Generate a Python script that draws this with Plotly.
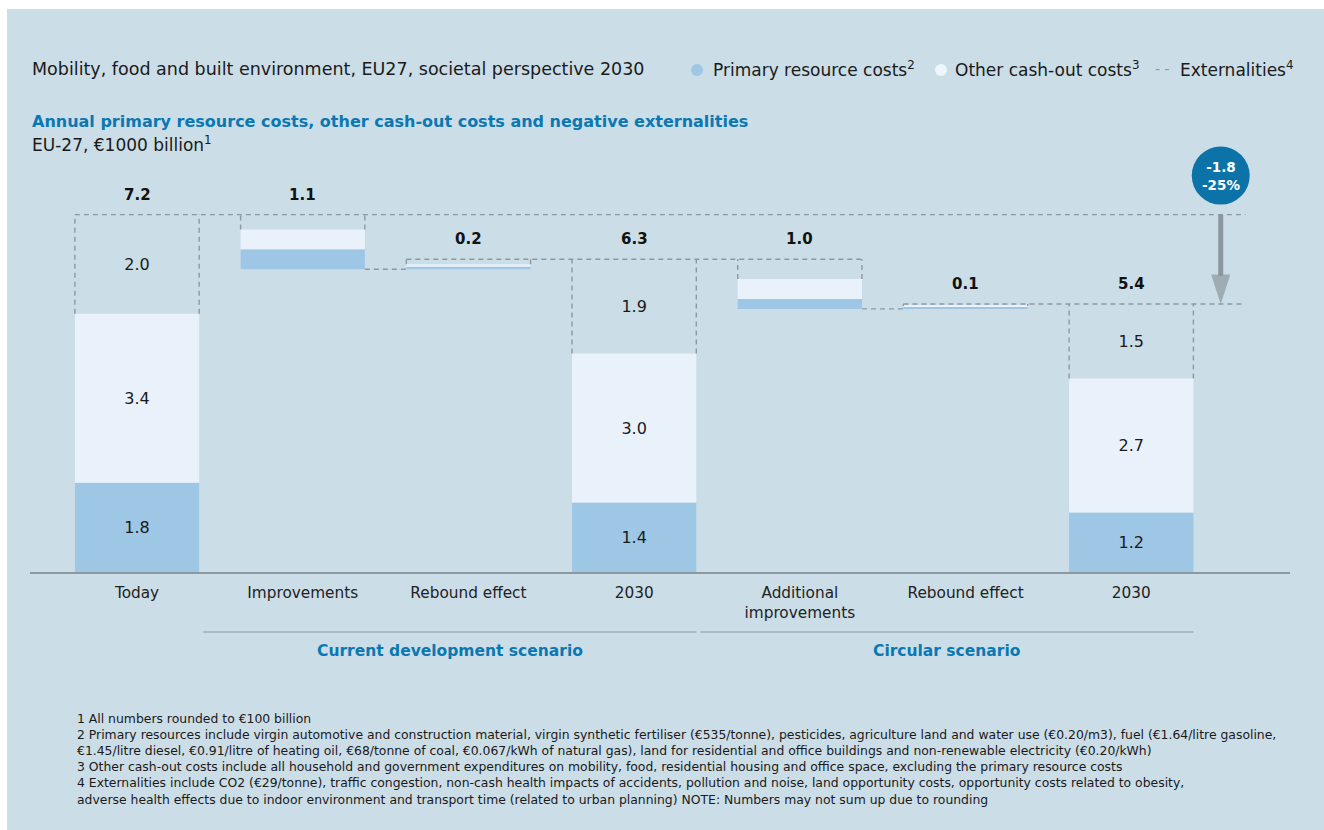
import math
import plotly.graph_objects as go

# ---------------- data ----------------
categories = ["Today", "Improvements", "Rebound effect", "2030",
              "Additional<br>improvements", "Rebound effect", "2030"]
measure = ["total", "relative", "relative", "total", "relative", "relative", "total"]
primary_costs = [1.8, -0.4, 0.05, 1.4, -0.2, 0.04, 1.2]
other_cash_out = [3.4, -0.4, 0.05, 3.0, -0.4, 0.02, 2.7]
externalities = [2.0, -0.3, 0.1, 1.9, -0.4, 0.04, 1.5]
groups = ["Current development scenario", "Circular scenario"]
group_members = [(1, 3), (4, 6)]
legend_names = ["Primary resource costs", "Other cash-out costs", "Externalities"]
header = "Mobility, food and built environment, EU27, societal perspective 2030"
title = "Annual primary resource costs, other cash-out costs and negative externalities"
subtitle = "EU-27, €1000 billion<sup>1</sup>"
footnotes = [
    "1 All numbers rounded to €100 billion",
    "2 Primary resources include virgin automotive and construction material, virgin synthetic fertiliser (€535/tonne), pesticides, agriculture land and water use (€0.20/m3), fuel (€1.64/litre gasoline,",
    "€1.45/litre diesel, €0.91/litre of heating oil, €68/tonne of coal, €0.067/kWh of natural gas), land for residential and office buildings and non-renewable electricity (€0.20/kWh)",
    "3 Other cash-out costs include all household and government expenditures on mobility, food, residential housing and office space, excluding the primary resource costs",
    "4 Externalities include CO2 (€29/tonne), traffic congestion, non-cash health impacts of accidents, pollution and noise, land opportunity costs, opportunity costs related to obesity,",
    "adverse health effects due to indoor environment and transport time (related to urban planning) NOTE: Numbers may not sum up due to rounding",
]

# ---------------- style ----------------
FONT = "DejaVu Sans"
BG = "#cbdde7"
C_PRIMARY = "#9dc7e5"
C_OTHER = "#e9f2fb"
C_DASH = "#8d99a1"
C_ARROW = "#8a979e"
C_BLUE = "#0a78b2"
C_BADGE = "#0b73a8"
TXT = "#1a1a1a"
BW = 0.75
OFF_X, OFF_Y = 7, 9          # white page border (body margin)
W, H = 1324 - OFF_X, 830 - OFF_Y
PLOT_L, PLOT_R, PLOT_T, PLOT_B = 30, 1290, 130, 572   # plot area in page pixels
ML, MT = PLOT_L - OFF_X, PLOT_T - OFF_Y
MR, MB = W - (PLOT_R - OFF_X), H - (PLOT_B - OFF_Y)
PW, PH = PLOT_R - PLOT_L, PLOT_B - PLOT_T
PX_PER_UNIT = 49.64
Y_TOP = PH / PX_PER_UNIT
DASH = "5px,4px"


def xp(rx):  # page pixel -> paper x
    return (rx - PLOT_L) / PW


def yp(ry):  # page pixel -> paper y
    return (PLOT_B - ry) / PH


# ---------------- computations ----------------
n = len(categories)
xs = list(range(n))
p_abs = [abs(v) for v in primary_costs]
o_abs = [abs(v) for v in other_cash_out]
e_abs = [abs(v) for v in externalities]
sums = [primary_costs[i] + other_cash_out[i] + externalities[i] for i in range(n)]

bases, tops, running = [], [], []
run = 0.0
for i in range(n):
    if measure[i] == "total":
        b, t, run = 0.0, sums[i], sums[i]
    else:
        new = run + sums[i]
        b, t, run = min(run, new), max(run, new), new
    bases.append(b)
    tops.append(t)
    running.append(run)

left = [i - BW / 2 for i in xs]
right = [i + BW / 2 for i in xs]
arrow_x = n - 1 + 0.54
arrow_end = n - 1 + 0.69

fig = go.Figure()

lab = lambda vals: [f"{v:.1f}" if measure[i] == "total" else None for i, v in enumerate(vals)]
common = dict(x=xs, width=BW, textposition="inside", insidetextanchor="middle",
              textangle=0, textfont=dict(family=FONT, size=16, color=TXT),
              hoverinfo="skip", showlegend=False, marker_line_width=0)
fig.add_bar(y=p_abs, base=bases, marker_color=C_PRIMARY, text=lab(p_abs), **common)
fig.add_bar(y=o_abs, base=[bases[i] + p_abs[i] for i in xs], marker_color=C_OTHER,
            text=lab(o_abs), **common)
ext_base = [bases[i] + p_abs[i] + o_abs[i] for i in xs]
fig.add_bar(y=e_abs, base=ext_base, marker_color="rgba(0,0,0,0)", text=lab(e_abs), **common)

# dashed connectors (merged per level)
iv = {}
def add_iv(level, a, b):
    iv.setdefault(round(level, 6), []).append((min(a, b), max(a, b)))

close = lambda a, b: math.isclose(a, b, abs_tol=1e-6)
for i in range(n - 1):
    L = running[i]
    s = left[i] if close(L, tops[i]) else right[i]
    e = right[i + 1] if close(L, tops[i + 1]) else left[i + 1]
    add_iv(L, s, e)
add_iv(running[0], left[0], arrow_end)
add_iv(running[-1], left[n - 1], arrow_end)

lx, ly = [], []
for level, lst in iv.items():
    lst.sort()
    merged = [list(lst[0])]
    for a, b in lst[1:]:
        if a <= merged[-1][1] + 1e-9:
            merged[-1][1] = max(merged[-1][1], b)
        else:
            merged.append([a, b])
    for a, b in merged:
        lx += [a, b, None]
        ly += [level, level, None]
# externality box sides
for i in xs:
    for xx in (left[i], right[i]):
        lx += [xx, xx, None]
        ly += [ext_base[i], tops[i], None]
fig.add_scatter(x=lx, y=ly, mode="lines", line=dict(color=C_DASH, width=1.4, dash=DASH),
                hoverinfo="skip", showlegend=False)

# change arrow (shaft + head), from first total to last total
fig.add_scatter(x=[arrow_x, arrow_x], y=[running[0], running[-1]], mode="lines+markers",
                line=dict(color=C_ARROW, width=5),
                marker=dict(symbol=["circle", "arrow"], size=[0, 31], angleref="previous",
                            color=C_ARROW, line=dict(width=0)),
                hoverinfo="skip", showlegend=False, cliponaxis=False)

annotations = []
# totals above bars
for i in xs:
    annotations.append(dict(x=i, y=tops[i], xref="x", yref="y", yshift=20, showarrow=False,
                            xanchor="center", yanchor="middle",
                            text=f"<b>{abs(sums[i]):.1f}</b>",
                            font=dict(family=FONT, size=15, color="#111")))

# badge
diff = running[-1] - running[0]
pct = diff / running[0] * 100
annotations.append(dict(x=arrow_x, y=running[0], xref="x", yref="y", yshift=39, showarrow=False,
                        xanchor="center", yanchor="middle",
                        text=f"<b>{diff:.1f}<br>{pct:.0f}%</b>",
                        font=dict(family=FONT, size=13.5, color="white")))

shapes = [dict(type="circle", xref="x", yref="y", xsizemode="pixel", ysizemode="pixel",
               xanchor=arrow_x, yanchor=running[0], x0=-29, x1=29, y0=10, y1=68,
               fillcolor=C_BADGE, line=dict(width=0), layer="above")]

# groups
for g, (a, b) in zip(groups, group_members):
    x0, x1 = a - 0.6, b + BW / 2
    shapes.append(dict(type="line", xref="x", yref="paper", x0=x0, x1=x1, y0=yp(632), y1=yp(632),
                       line=dict(color=C_DASH, width=1.2)))
    annotations.append(dict(x=(x0 + x1) / 2, y=yp(651), xref="x", yref="paper", showarrow=False,
                            xanchor="center", yanchor="middle",
                            text=f"<b>{g}</b>", font=dict(family=FONT, size=15.5, color=C_BLUE)))

# header, title, subtitle
annotations += [
    dict(x=xp(30), y=yp(69), xref="paper", yref="paper", xanchor="left", yanchor="middle",
         showarrow=False, text=header, font=dict(family=FONT, size=17.5, color=TXT)),
    dict(x=xp(30), y=yp(121), xref="paper", yref="paper", xanchor="left", yanchor="middle",
         showarrow=False, text=f"<b>{title}</b>", font=dict(family=FONT, size=16, color=C_BLUE)),
    dict(x=xp(30), y=yp(144), xref="paper", yref="paper", xanchor="left", yanchor="middle",
         showarrow=False, text=subtitle, font=dict(family=FONT, size=17, color=TXT)),
    dict(x=xp(75), y=yp(709), xref="paper", yref="paper", xanchor="left", yanchor="top",
         align="left", showarrow=False, text="<br>".join(footnotes),
         font=dict(family=FONT, size=12.4, color=TXT)),
]

# legend
sup = ["2", "3", "4"]
leg_dot_x = [697, 941]
leg_text_x = [711, 953, 1178]
for k, c in enumerate([C_PRIMARY, "#eef6fd"]):
    shapes.append(dict(type="circle", xref="paper", yref="paper", xsizemode="pixel",
                       ysizemode="pixel", xanchor=xp(leg_dot_x[k]), yanchor=yp(70),
                       x0=-6, x1=6, y0=-6, y1=6, fillcolor=c, line=dict(width=0)))
for k in range(3):
    annotations.append(dict(x=xp(leg_text_x[k]), y=yp(69), xref="paper", yref="paper",
                            xanchor="left", yanchor="middle", showarrow=False,
                            text=f"{legend_names[k]}<sup>{sup[k]}</sup>",
                            font=dict(family=FONT, size=17, color=TXT)))
annotations.append(dict(x=xp(1153), y=yp(69), xref="paper", yref="paper", xanchor="left",
                        yanchor="middle", showarrow=False, text="- -",
                        font=dict(family=FONT, size=14, color=C_ARROW)))

fig.update_layout(
    width=W, height=H, margin=dict(l=ML, r=MR, t=MT, b=MB),
    paper_bgcolor=BG, plot_bgcolor=BG, barmode="overlay", showlegend=False,
    font=dict(family=FONT, color=TXT),
    xaxis=dict(range=[-0.646, 6.958], tickvals=xs, ticktext=categories, showline=True,
               linecolor=C_DASH, linewidth=1.5, showgrid=False, zeroline=False, ticks="",
               ticklabelstandoff=6,
               tickfont=dict(family=FONT, size=15.3, color="#222"), fixedrange=True),
    yaxis=dict(range=[0, Y_TOP], visible=False, fixedrange=True),
    annotations=annotations, shapes=shapes,
)

page_style = (f"document.body.style.margin='{OFF_Y}px 0 0 {OFF_X}px';"
              "document.body.style.padding='0';document.body.style.overflow='hidden';"
              "document.body.style.background='white';")
fig.write_html("out.html", post_script=page_style)
